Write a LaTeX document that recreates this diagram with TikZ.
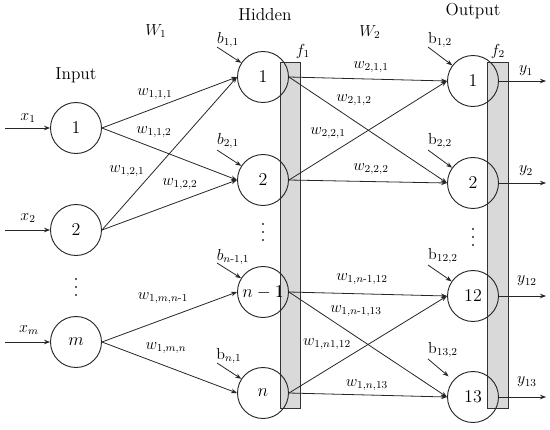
\documentclass[tikz,border=0pt]{standalone}
\usepackage{fix-cm}
\usepackage{amsmath}
\usetikzlibrary{arrows.meta}
\begin{document}
\begin{tikzpicture}[x=0.75pt,y=-0.75pt,
  neuron/.style={circle,draw=black!85,line width=0.7pt,minimum size=38.25pt,inner sep=0pt,font=\fontsize{13.5}{16}\selectfont},
  lbl/.style={font=\large,inner sep=0pt},
  ttl/.style={font=\fontsize{13}{16}\selectfont,inner sep=0pt,anchor=base},
  dot/.style={circle,fill=black!85,inner sep=0pt,minimum size=1.6pt},
  barbox/.style={draw=black!80,fill=black!15,line width=0.7pt,minimum width=15pt,minimum height=259.5pt,inner sep=0pt,anchor=north west},
  conn/.style={draw=black!85,line width=0.6pt,-{Stealth[length=4.5pt,width=3.4pt]}},
]
\useasboundingbox (0,0) rectangle (550,429);
% activation bars
\node[barbox] (bar1) at (280,62) {};
\node[barbox,minimum width=15.75pt] (bar2) at (487,62) {};
% neurons
\node[neuron] (i1) at (76,128) {1};
\node[neuron] (i2) at (76,230) {2};
\node[neuron] (im) at (76,342) {$m$};
\node[neuron] (h1) at (263,77) {1};
\node[neuron] (h2) at (263,180) {2};
\node[neuron] (hn1) at (263,292) {$n-1$};
\node[neuron] (hn) at (263,393) {$n$};
\node[neuron] (o1) at (473,81) {1};
\node[neuron] (o2) at (473,183) {2};
\node[neuron] (o12) at (473,296) {12};
\node[neuron] (o13) at (473,397) {13};
% vertical dots
\foreach \yy [count=\k] in {279,287,295} \node[dot] (da\k) at (76,\yy) {};
\foreach \yy [count=\k] in {224,232,240} \node[dot] (db\k) at (263,\yy) {};
\foreach \yy [count=\k] in {229,237,245} \node[dot] (dc\k) at (473,\yy) {};
% titles
\node[ttl] (tin) at (76,79) {Input};
\node[ttl] (thid) at (265,20) {Hidden};
\node[ttl] (tout) at (473,15) {Output};
\node[lbl] (tw1) at (156,31) {$W_1$};
\node[lbl] (tw2) at (370,32) {$W_2$};
\node[lbl] (tf1) at (303,51) {$f_1$};
\node[lbl] (tf2) at (498,51) {$f_2$};
% inputs
\coordinate (x1s) at (5,128);
\coordinate (x2s) at (5,230);
\coordinate (xms) at (5,342);
\draw[conn] (x1s) -- (i1.west);
\draw[conn] (x2s) -- (i2.west);
\draw[conn] (xms) -- (im.west);
\node[lbl] (lx1) at (28,118) {$x_1$};
\node[lbl] (lx2) at (28,218) {$x_2$};
\node[lbl] (lxm) at (29,330) {$x_m$};
% input -> hidden
\draw[conn] (i1.east) -- (h1.west);
\draw[conn] (i1.east) -- (h2.west);
\draw[conn] (i2.east) -- (h1.west);
\draw[conn] (i2.east) -- (h2.west);
\draw[conn] (im.east) -- (hn1.west);
\draw[conn] (im.east) -- (hn.west);
\node[lbl] (w111) at (155,94) {$w_{1,1,1}$};
\node[lbl] (w112) at (154,132) {$w_{1,1,2}$};
\node[lbl] (w121) at (127,171) {$w_{1,2,1}$};
\node[lbl] (w122) at (180,184) {$w_{1,2,2}$};
\node[lbl] (w1mn1) at (163,298) {$w_{1,m,n\text{-}1}$};
\node[lbl] (w1mn) at (166,348) {$w_{1,m,n}$};
% hidden -> output
\draw[conn] (h1.east) -- (o1.west);
\draw[conn] (h1.east) -- (o2.west);
\draw[conn] (h2.east) -- (o1.west);
\draw[conn] (h2.east) -- (o2.west);
\draw[conn] (hn1.east) -- (o12.west);
\draw[conn] (hn1.east) -- (o13.west);
\draw[conn] (hn.east) -- (o12.west);
\draw[conn] (hn.east) -- (o13.west);
\node[lbl] (w211) at (371,67) {$w_{2,1,1}$};
\node[lbl] (w212) at (354,100) {$w_{2,1,2}$};
\node[lbl] (w221) at (328,133) {$w_{2,2,1}$};
\node[lbl] (w222) at (371,169) {$w_{2,2,2}$};
\node[lbl] (wa) at (362,279) {$w_{1,n\text{-}1,12}$};
\node[lbl] (wb) at (356,311) {$w_{1,n\text{-}1,13}$};
\node[lbl] (wc) at (327,344) {$w_{1,n1,12}$};
\node[lbl] (wd) at (367,385) {$w_{1,n,13}$};
% biases
\coordinate (bs1) at (217,47);
\coordinate (bs2) at (217,150);
\coordinate (bs3) at (217,263);
\coordinate (bs4) at (217,363);
\coordinate (bs5) at (428,47);
\coordinate (bs6) at (428,150);
\coordinate (bs7) at (428,265);
\coordinate (bs8) at (428,359);
\draw[conn] (bs1) -- (h1);
\draw[conn] (bs2) -- (h2);
\draw[conn] (bs3) -- (hn1);
\draw[conn] (bs4) -- (hn);
\draw[conn] (bs5) -- (o1);
\draw[conn] (bs6) -- (o2);
\draw[conn] (bs7) -- (o12);
\draw[conn,shorten >=4.5pt] (bs8) -- (o13);
\node[lbl] (b11) at (228,40) {$b_{1,1}$};
\node[lbl] (b21) at (228,141) {$b_{2,1}$};
\node[lbl] (bn11) at (233,257) {$b_{n\text{-}1,1}$};
\node[lbl] (bn1) at (229,356) {$\mathrm{b}_{n,1}$};
\node[lbl] (b12) at (440,40) {$\mathrm{b}_{1,2}$};
\node[lbl] (b22) at (440,141) {$\mathrm{b}_{2,2}$};
\node[lbl] (b122) at (443,256) {$\mathrm{b}_{12,2}$};
\node[lbl] (b132) at (443,350) {$\mathrm{b}_{13,2}$};
% outputs
\coordinate (y1e) at (546,81);
\coordinate (y2e) at (546,183);
\coordinate (y12e) at (546,296);
\coordinate (y13e) at (546,397);
\draw[conn] (o1.east) -- (y1e);
\draw[conn] (o2.east) -- (y2e);
\draw[conn] (o12.east) -- (y12e);
\draw[conn] (o13.east) -- (y13e);
\node[lbl] (ly1) at (526,71) {$y_1$};
\node[lbl] (ly2) at (526,171) {$y_2$};
\node[lbl] (ly12) at (527,281) {$y_{12}$};
\node[lbl] (ly13) at (527,382) {$y_{13}$};
\end{tikzpicture}
\end{document}
